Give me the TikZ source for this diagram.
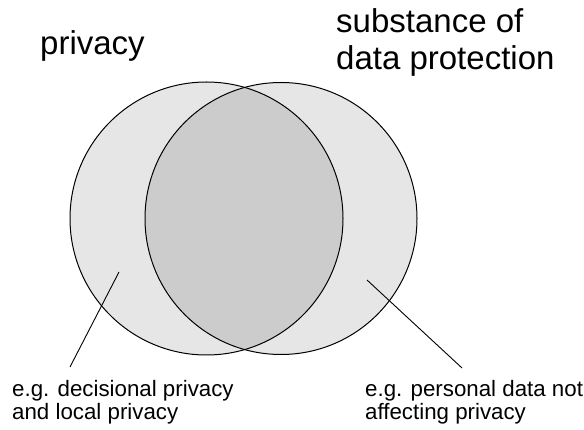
\documentclass[tikz,border=0pt]{standalone}
\usepackage{fontspec}
\setmainfont{Liberation Sans}
\definecolor{outerfill}{HTML}{E6E6E6}
\definecolor{lensfill}{HTML}{CCCCCC}
\begin{document}
\begin{tikzpicture}[x=1pt,y=-1pt,
  big/.style={font=\fontsize{33}{37}\selectfont, inner sep=0pt, anchor=base west},
  small/.style={font=\fontsize{22.3}{22}\selectfont, inner sep=0pt, anchor=base west},
  ring/.style={draw=black, line width=1pt},
  pointer/.style={draw=black, line width=0.9pt}]
\useasboundingbox (0,0) rectangle (584,430);
\coordinate (cl) at (206.5,218.5);
\coordinate (cr) at (281,218.5);
% fills
\fill[outerfill] (cl) circle (136.5);
\fill[outerfill] (cr) circle (136);
\begin{scope}
  \clip (cl) circle (136.5);
  \fill[lensfill] (cr) circle (136);
\end{scope}
% outlines
\draw[ring] (cl) circle (136.5);
\draw[ring] (cr) circle (136);
% pointers
\coordinate (pl) at (119,272);
\coordinate (ql) at (70,367);
\coordinate (pr) at (367,280);
\coordinate (qr) at (462,368);
\draw[pointer] (pl) -- (ql);
\draw[pointer] (pr) -- (qr);
% texts
\node[big] (priv) at (40,55) {privacy};
\node[big] (sub1) at (336,33) {substance of};
\node[big] (sub2) at (336,70) {data protection};
\node[small] (l1) at (12,396) {e.g. decisional privacy};
\node[small] (l2) at (12,419) {and local privacy};
\node[small] (r1) at (365,397) {e.g. personal data not};
\node[small] (r2) at (365,419) {affecting privacy};
\end{tikzpicture}
\end{document}
